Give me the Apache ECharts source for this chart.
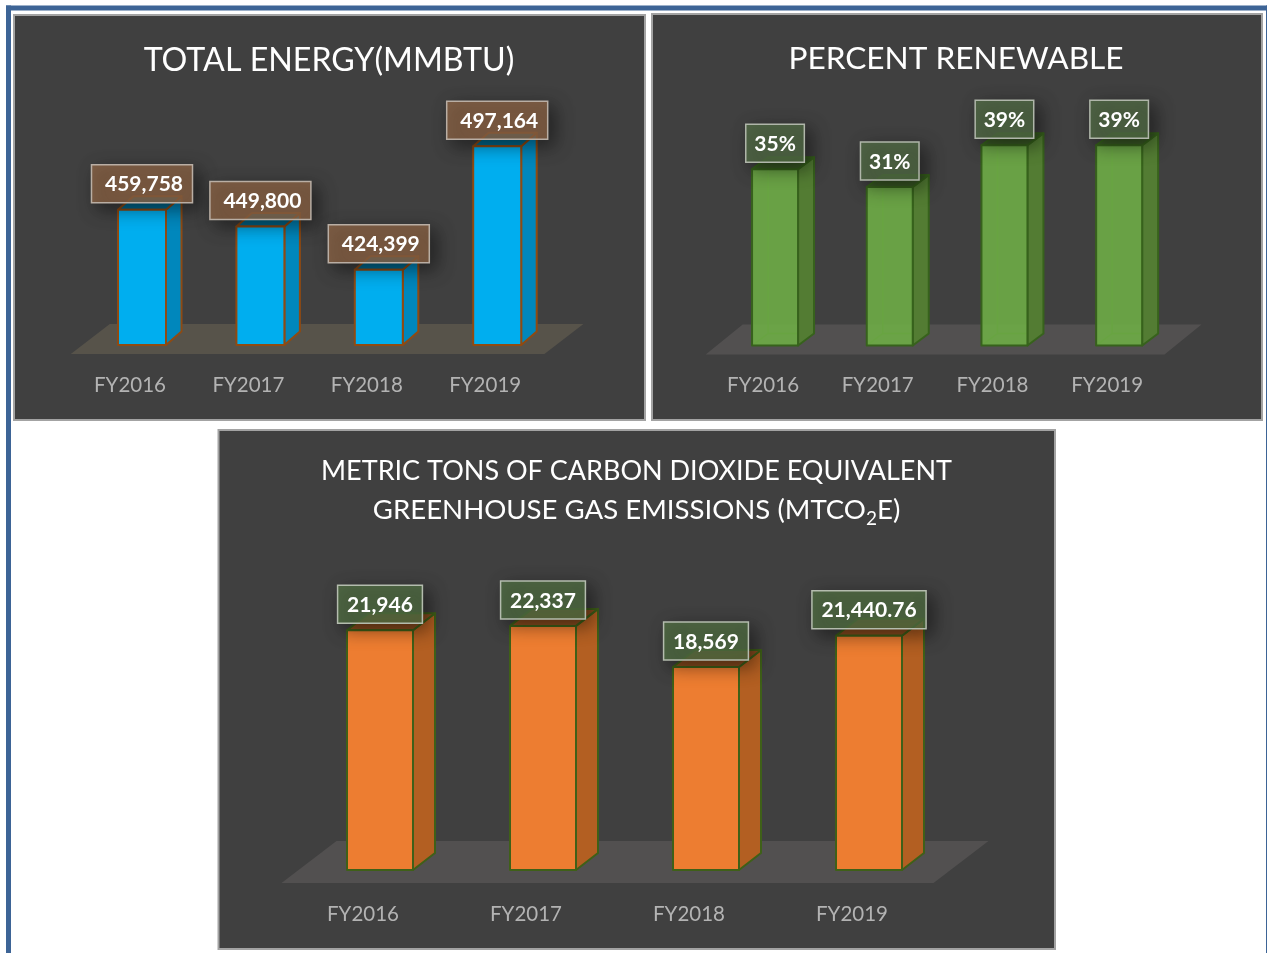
<!DOCTYPE html>
<html>
<head>
<meta charset="utf-8">
<style>html,body{margin:0;padding:0;background:#fff}#c{width:1267px;height:953px}</style>
<script src="https://cdn.jsdelivr.net/npm/echarts@6/dist/echarts.min.js"></script>
</head>
<body>
<div id="c"></div>
<script>
var categories = ['FY2016', 'FY2017', 'FY2018', 'FY2019'];
var energyValues = [459758, 449800, 424399, 497164];
var renewableValues = [34.7, 31.2, 39.4, 39.4];
var emissionValues = [21946, 22337, 18569, 21440.76];
var energyLabels = ['459,758', '449,800', '424,399', '497,164'];
var renewableLabels = ['35%', '31%', '39%', '39%'];
var emissionLabels = ['21,946', '22,337', '18,569', '21,440.76'];

var FONT = 'Lato, "Open Sans", sans-serif';
var panels = [
  { values: energyValues, labels: energyLabels, min: 380000, max: 500000,
    grid: { left: 70.8, width: 473.6, top: 141.4, bottom: 345 }, margin: 30,
    shift: 12, bw: 48, dx: 15.5, dy: 13.5, pad: 11.5, gap: 7, textShift: 2,
    floor: { dx: 39, up: 21, down: 9, color: '#57534a' },
    face: 'rgba(0,174,239,1)', side: '#0087bc', top: '#00698f', stroke: '#8f4a12',
    box: 'rgba(146,104,72,0.76)', boxLine: '#b9aea4' },
  { values: renewableValues, labels: renewableLabels, min: 0, max: 40,
    grid: { left: 705.7, width: 458.8, top: 142.2, bottom: 345.5 }, margin: 29,
    shift: 12, bw: 46, dx: 16, dy: 12, pad: 8.5, gap: 7, textShift: 0, ghost: true,
    floor: { dx: 37, up: 21, down: 9, color: '#525050' },
    face: 'rgba(110,172,70,0.9)', side: '#537c33', top: '#3a5a26', stroke: '#37621c',
    box: 'rgba(86,112,72,0.76)', boxLine: '#b0b6aa' },
  { values: emissionValues, labels: emissionLabels, min: 0, max: 25000,
    grid: { left: 281.5, width: 652, top: 596.8, bottom: 870 }, margin: 34,
    shift: 17, bw: 66, dx: 22, dy: 17, pad: 9.5, gap: 7, textShift: 0,
    floor: { dx: 55, up: 29, down: 13, color: '#525050' },
    face: 'rgba(237,125,49,1)', side: '#b35f22', top: '#8c4e1f', stroke: '#3f6018',
    box: 'rgba(84,114,70,0.76)', boxLine: '#b4bcae' }
];

var measureCtx = document.createElement('canvas').getContext('2d');
function textWidth(t) {
  measureCtx.font = 'bold 21px ' + FONT;
  return measureCtx.measureText(t).width;
}

function barRenderer(p) {
  return function (params, api) {
    var cat = api.value(0), val = api.value(1);
    var topPt = api.coord([cat, val]);
    var basePt = api.coord([cat, p.min]);
    var x0 = topPt[0] + p.shift - p.bw / 2, x1 = x0 + p.bw;
    var yT = topPt[1], yB = basePt[1];
    var ls = { stroke: p.stroke, lineWidth: 2, lineJoin: 'round' };
    var kids = [];
    if (params.dataIndex === 0) {
      var g = params.coordSys, f = p.floor;
      kids.push({ type: 'polygon', shape: { points: [
        [g.x, yB + f.down], [g.x + g.width, yB + f.down],
        [g.x + g.width + f.dx, yB - f.up], [g.x + f.dx, yB - f.up]
      ] }, style: { fill: f.color } });
    }
    if (p.ghost) {
      kids.push({ type: 'polyline', shape: { points: [[x0 + p.dx, yT - p.dy], [x0 + p.dx, yB - p.dy], [x1 + p.dx, yB - p.dy]] },
        style: { fill: 'none', stroke: p.stroke, lineWidth: 1.5 } });
      kids.push({ type: 'line', shape: { x1: x0, y1: yB, x2: x0 + p.dx, y2: yB - p.dy },
        style: { stroke: p.stroke, lineWidth: 1.5 } });
    }
    kids.push({ type: 'polygon', shape: { points: [[x1, yT], [x1 + p.dx, yT - p.dy], [x1 + p.dx, yB - p.dy], [x1, yB]] },
      style: Object.assign({ fill: p.side }, ls) });
    kids.push({ type: 'polygon', shape: { points: [[x0, yT], [x0 + p.dx, yT - p.dy], [x1 + p.dx, yT - p.dy], [x1, yT]] },
      style: Object.assign({ fill: p.top }, ls) });
    kids.push({ type: 'rect', shape: { x: x0, y: yT, width: p.bw, height: yB - yT },
      style: Object.assign({ fill: p.face }, ls) });
    return { type: 'group', children: kids };
  };
}

function labelRenderer(p) {
  return function (params, api) {
    var cat = api.value(0), val = api.value(1);
    var pt = api.coord([cat, val]);
    var t = p.labels[params.dataIndex];
    var w = textWidth(t) + p.pad * 2, h = 38;
    var cx = pt[0] + p.shift;
    var yBox = pt[1] - p.gap - h;
    return { type: 'group', children: [
      { type: 'rect', shape: { x: cx - w / 2, y: yBox, width: w, height: h },
        style: { fill: p.box, stroke: p.boxLine, lineWidth: 1.5,
                 shadowBlur: 18, shadowColor: 'rgba(0,0,0,0.6)', shadowOffsetX: 6, shadowOffsetY: 6 } },
      { type: 'text', style: { text: t, x: cx + p.textShift, y: yBox + h / 2 + 1, align: 'center', verticalAlign: 'middle',
                 fill: '#fff', font: 'bold 21px ' + FONT } }
    ] };
  };
}

function panelRect(x, y, w, h) {
  return { type: 'rect', z: 0, shape: { x: x, y: y, width: w, height: h },
           style: { fill: '#404040', stroke: '#a3a3a3', lineWidth: 2 } };
}

var grids = [], xAxes = [], yAxes = [], series = [];
panels.forEach(function (p, i) {
  grids.push({ left: p.grid.left, width: p.grid.width, top: p.grid.top, height: p.grid.bottom - p.grid.top, containLabel: false });
  xAxes.push({ type: 'category', gridIndex: i, data: categories,
    axisLine: { show: false }, axisTick: { show: false }, splitLine: { show: false },
    axisLabel: { color: '#b3b3b3', fontSize: 20.5, fontFamily: FONT, margin: p.margin, interval: 0 } });
  yAxes.push({ type: 'value', gridIndex: i, min: p.min, max: p.max, show: false, splitLine: { show: false } });
  var data = p.values.map(function (v, k) { return [k, v]; });
  series.push({ type: 'custom', xAxisIndex: i, yAxisIndex: i, z: 3, data: data, clip: false,
    encode: { x: 0, y: 1 }, renderItem: barRenderer(p), silent: true });
  series.push({ type: 'custom', xAxisIndex: i, yAxisIndex: i, z: 4, data: data, clip: false,
    encode: { x: 0, y: 1 }, renderItem: labelRenderer(p), silent: true });
});

var option = {
  animation: false,
  backgroundColor: '#fff',
  textStyle: { fontFamily: FONT },
  graphic: { elements: [
    { type: 'rect', z: 0, shape: { x: 6, y: 5.5, width: 1261, height: 5 }, style: { fill: '#3d6496' } },
    { type: 'rect', z: 0, shape: { x: 6, y: 5.5, width: 5, height: 948 }, style: { fill: '#3d6496' } },
    { type: 'rect', z: 0, shape: { x: 1266, y: 5.5, width: 1.5, height: 948 }, style: { fill: '#3d6496' } },
    panelRect(14, 15, 631, 405),
    panelRect(652, 14, 610, 406),
    panelRect(218.5, 430, 836.5, 519)
  ] },
  title: [
    { text: 'TOTAL ENERGY(MMBTU)', left: 329, top: 45, textAlign: 'center', padding: 0,
      textStyle: { color: '#fff', fontSize: 32.2, fontWeight: 'normal', fontFamily: FONT } },
    { text: 'PERCENT RENEWABLE', left: 956, top: 43, textAlign: 'center', padding: 0,
      textStyle: { color: '#fff', fontSize: 31.6, fontWeight: 'normal', fontFamily: FONT } },
    { text: 'METRIC TONS OF CARBON DIOXIDE EQUIVALENT', left: 636.5, top: 458, textAlign: 'center', padding: 0,
      textStyle: { color: '#fff', fontSize: 27, fontWeight: 'normal', fontFamily: FONT } },
    { text: 'GREENHOUSE GAS EMISSIONS (MTCO{s|2}E)', left: 636.5, top: 493, textAlign: 'center', padding: 0,
      textStyle: { color: '#fff', fontSize: 27.6, fontWeight: 'normal', fontFamily: FONT,
        rich: { s: { color: '#fff', fontSize: 19, fontFamily: FONT, padding: [16, 0, 0, 0] } } } }
  ],
  grid: grids, xAxis: xAxes, yAxis: yAxes, series: series
};

var chart = echarts.init(document.getElementById('c'), null, { renderer: 'canvas' });
chart.setOption(option);
</script>
</body>
</html>
